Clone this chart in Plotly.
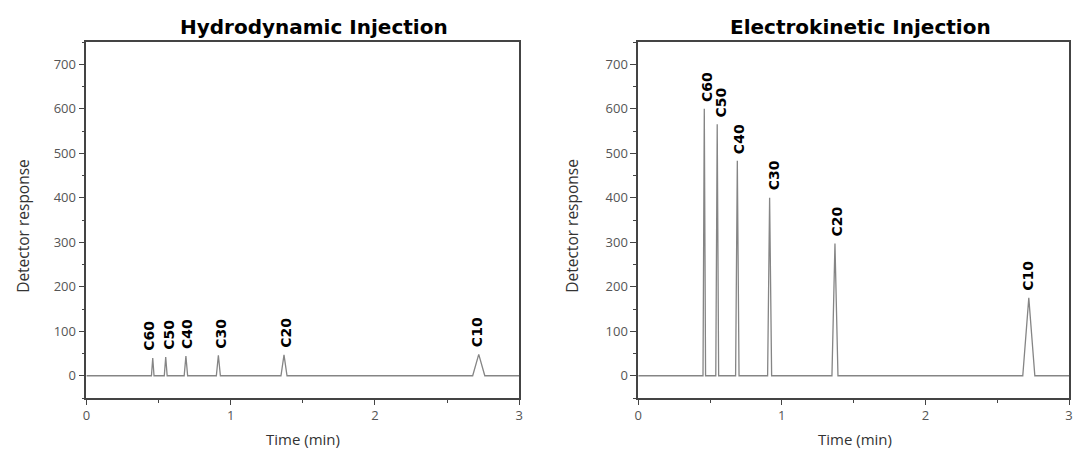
import plotly.graph_objects as go
from plotly.subplots import make_subplots

# ---- data ----
compounds = ["C60", "C50", "C40", "C30", "C20", "C10"]
peak_times = [0.46, 0.55, 0.69, 0.915, 1.37, 2.72]          # min
peak_half_widths = [0.009, 0.010, 0.012, 0.014, 0.021, 0.042]  # min (half base width)
hydro_heights = [40, 42, 44, 46, 47, 48]
electro_heights = [600, 565, 483, 400, 297, 175]
time_start, time_end = 0.0, 3.0

x_ticks = [0, 1, 2, 3]
y_ticks = [0, 100, 200, 300, 400, 500, 600, 700]

panel_titles = ["Hydrodynamic Injection", "Electrokinetic Injection"]
x_title = "Time (min)"
y_title = "Detector response"

# label nudges (pixels), per panel – purely cosmetic, to avoid overlaps
label_nudge = {1: [-4, 3, 1, 3, 2, -1], 2: [2, 4, 1, 4, 2, -1]}


def trace_points(times, widths, heights):
    xs, ys = [time_start], [0]
    for t, w, h in zip(times, widths, heights):
        xs += [t - w, t, t + w]
        ys += [0, h, 0]
    xs.append(time_end)
    ys.append(0)
    return xs, ys


fig = make_subplots(rows=1, cols=2)

line_style = dict(color="#858585", width=1.3)
for col, heights in ((1, hydro_heights), (2, electro_heights)):
    xs, ys = trace_points(peak_times, peak_half_widths, heights)
    fig.add_trace(go.Scatter(x=xs, y=ys, mode="lines", line=line_style,
                             showlegend=False, hoverinfo="skip"), row=1, col=col)
    xref = "x" if col == 1 else "x2"
    yref = "y" if col == 1 else "y2"
    for name, t, h, dx in zip(compounds, peak_times, heights, label_nudge[col]):
        fig.add_annotation(x=t, y=h, xref=xref, yref=yref, text="<b>%s</b>" % name,
                           textangle=-90, showarrow=False, xanchor="center",
                           yanchor="bottom", yshift=5, xshift=dx,
                           font=dict(family="DejaVu Sans", size=14, color="#000"))

axis_common = dict(showgrid=False, zeroline=False, showline=True, linecolor="#444",
                   linewidth=1.6, mirror=True, ticks="outside", tickcolor="#444",
                   tickwidth=1.2, tickfont=dict(family="Open Sans", size=13, color="#555"))

W, H = 1074, 450
domains = [(83 / W, 519 / W), (639 / W, 1073 / W)]
ydom = (1 - 398 / H, 1 - 42 / H)

for i, (d0, d1) in enumerate(domains, start=1):
    sx = "" if i == 1 else str(i)
    fig.update_layout(**{
        "xaxis" + sx: dict(axis_common, domain=[d0, d1], range=[time_start, time_end],
                           tickvals=x_ticks, ticklen=5,
                           minor=dict(dtick=0.5, tick0=0, ticklen=3, ticks="outside",
                                      tickcolor="#444")),
        "yaxis" + sx: dict(axis_common, domain=list(ydom), range=[-50, 750],
                           tickvals=y_ticks, ticklen=6,
                           minor=dict(dtick=50, tick0=0, ticklen=3, ticks="outside",
                                      tickcolor="#444")),
    })

# panel titles and axis titles
title_x = [312 / W, 863 / W]
xt_x = [301 / W, 857 / W]
yt_x = [19 / W, 572 / W]
for i in range(2):
    fig.add_annotation(x=title_x[i], y=1 - 27 / H, xref="paper", yref="paper",
                       text="<b>%s</b>" % panel_titles[i], showarrow=False,
                       xanchor="center", yanchor="middle",
                       font=dict(family="DejaVu Sans", size=20, color="#000"))
    fig.add_annotation(x=xt_x[i], y=1 - 439 / H, xref="paper", yref="paper",
                       text=x_title, showarrow=False, xanchor="center", yanchor="middle",
                       font=dict(family="Open Sans", size=15, color="#333"))
    fig.add_annotation(x=yt_x[i], y=1 - 226 / H, xref="paper", yref="paper",
                       text=y_title, textangle=-90, showarrow=False,
                       xanchor="center", yanchor="middle",
                       font=dict(family="Open Sans", size=15.5, color="#333"))

fig.update_layout(width=W, height=H, margin=dict(l=0, r=0, t=0, b=0),
                  paper_bgcolor="white", plot_bgcolor="white")

fig.write_html("out.html")
